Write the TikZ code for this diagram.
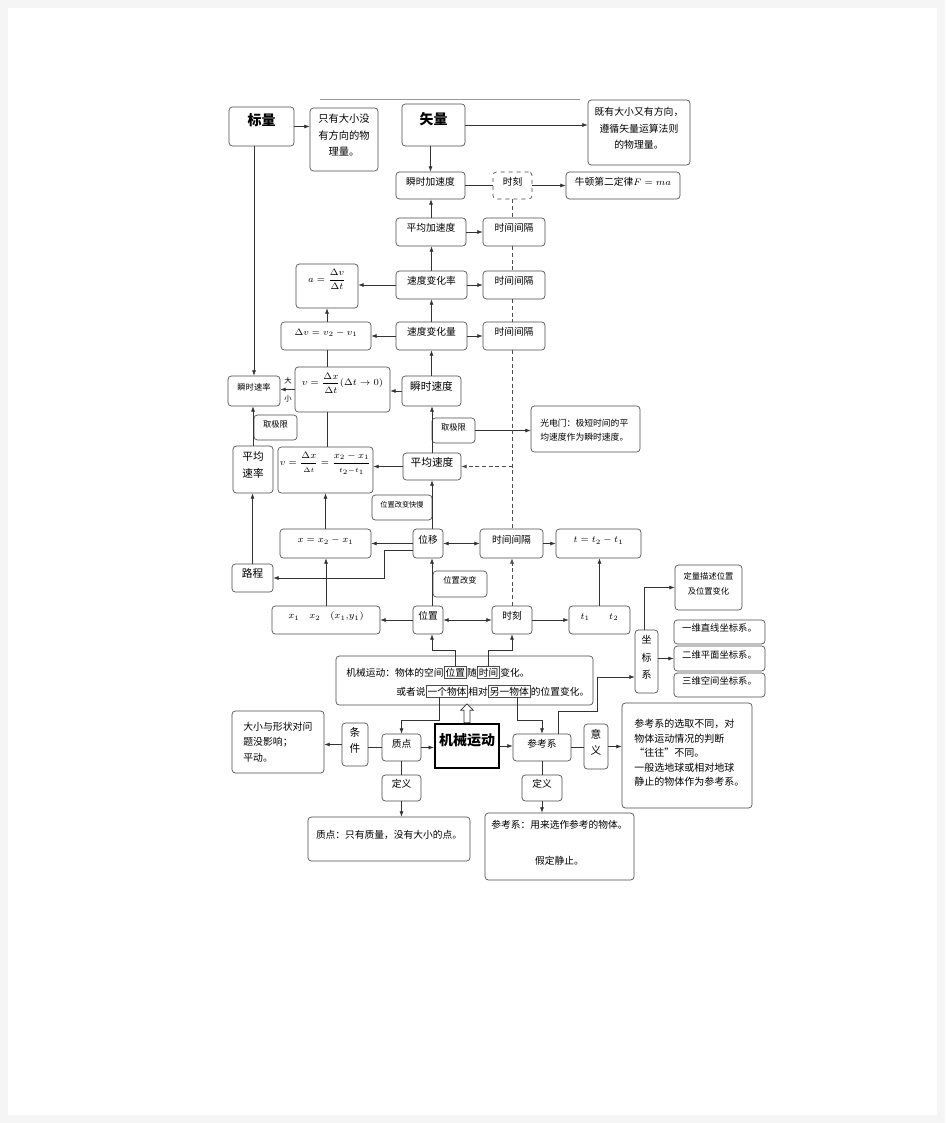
\documentclass[tikz,border=0pt]{standalone}
\usepackage{amsmath}
\usepackage{fontspec}
\setmainfont{Liberation Serif}
\newfontfamily\zh{Noto Sans CJK SC}
\usetikzlibrary{fit,calc,arrows.meta,shapes.arrows}
\newcommand\fsz[2]{\fontsize{#1}{#2}\selectfont}
\begin{document}
\begin{tikzpicture}[x=0.75pt,y=-0.75pt,line width=0.5pt,
  font=\zh\fsz{7.3}{9},
  box/.style={draw=black!70,rounded corners=2.5pt,fill=white,inner sep=0pt,align=center},
  txt/.style={inner sep=0pt,font=\zh\fsz{7.3}{9}},
  ltxt/.style={inner sep=0pt,align=left,anchor=west},
  hl/.style={draw=black!70,inner sep=1pt,font=\zh\fsz{7.3}{9}},
  ln/.style={draw=black!80},
  arr/.style={draw=black!80,-{Latex[length=4pt,width=3pt]}},
  darr/.style={draw=black!80,{Latex[length=4pt,width=3pt]}-{Latex[length=4pt,width=3pt]}},
  dline/.style={draw=black!70,dash pattern=on 3pt off 2pt}]
\newcommand\bx[5][]{\node[box,fit={(#3)(#4)},#1] (#2) {#5};}
\useasboundingbox (0,0) rectangle (945,1123);
\fill[gray!8] (0,0) rectangle (945,1123);
\fill[white] (8,8) rectangle (937,1115);
\draw[black!40] (320,99) -- (580,99);
% top
\bx[font=\zh\fsz{10.5}{12}\bfseries]{bl}{229,107}{294,146}{标量}
\bx[font=\zh\fsz{7.7}{12.5}]{bld}{310,108}{378,171}{只有大小没\\有方向的物\\理量。}
\bx[font=\zh\fsz{10.5}{12}\bfseries]{sl}{402,104}{465,146}{矢量}
\bx[font=\zh\fsz{7.4}{12.5}]{sld}{588,100}{690,165}{既有大小又有方向，\\遵循矢量运算法则\\的物理量。}
\bx{shja}{396,172}{465,199}{瞬时加速度}
\bx[dashed]{skA}{493,172}{532,199}{时刻}
\bx{nt}{566,172}{680,199}{牛顿第二定律$F=ma$}
\bx{pja}{396,218}{466,246}{平均加速度}
\bx{jgA}{483,218}{545,246}{时间间隔}
\bx{bhl}{396,271}{467,299}{速度变化率}
\bx{af}{296,264}{358,308}{$a=\dfrac{\Delta v}{\Delta t}$}
\bx{jgB}{483,271}{545,299}{时间间隔}
\bx{bhq}{396,322}{467,350}{速度变化量}
\bx{dv}{281,322}{371,350}{$\Delta v=v_2-v_1$}
\bx{jgC}{483,322}{545,350}{时间间隔}
\bx{vl}{295,367}{390,412}{$v=\dfrac{\Delta x}{\Delta t}(\Delta t\to0)$}
\bx[font=\zh\fsz{8}{10}]{shsd}{402,376}{461,406}{瞬时速度}
\bx[font=\zh\fsz{6.2}{8}]{shsl}{228,376}{280,406}{瞬时速率}
\bx[font=\zh\fsz{6.2}{8}]{qA}{254,415}{297,440}{取极限}
\bx[font=\zh\fsz{6.2}{8}]{qB}{432,418}{475,443}{取极限}
\bx{gdm}{531,406}{640,452}{}
\node[ltxt,font=\zh\fsz{6.6}{10}] (gdmt) at (540,430) {光电门：极短时间的平\\均速度作为瞬时速度。};
\bx[font=\zh\fsz{8}{13}]{pjsl}{233,446}{273,493}{平均\\速率}
\bx{va}{278,447}{373,493}{$v=\dfrac{\Delta x}{\scriptstyle\Delta t}=\dfrac{x_2-x_1}{\scriptstyle t_2-t_1}$}
\bx[font=\zh\fsz{8}{10}]{pjsd}{403,453}{461,480}{平均速度}
\bx[font=\zh\fsz{5.4}{7}]{gbkm}{372,495}{432,520}{位置改变快慢}
\bx{wy}{413,529}{443,558}{位移}
\bx{xf}{280,529}{371,558}{$x=x_2-x_1$}
\bx[font=\zh\fsz{8}{10}]{lc}{232,564}{273,592}{路程}
\bx{jgM}{480,529}{543,558}{时间间隔}
\bx{tf}{556,529}{641,558}{$t=t_2-t_1$}
\bx[font=\zh\fsz{6.2}{8}]{wzgb}{433,571}{487,597}{位置改变}
\bx{wz}{413,606}{443,634}{位置}
\bx{xs}{272,606}{380,634}{$x_1\quad x_2\quad(x_1{,}y_1)$}
\bx{skB}{492,606}{532,634}{时刻}
\bx{tt}{569,606}{630,634}{$t_1\qquad t_2$}
\bx[font=\zh\fsz{7.5}{13}]{zbx}{635,630}{658,693}{坐\\标\\系}
\bx[font=\zh\fsz{6.2}{11}]{dl}{675,565}{742,610}{定量描述位置\\及位置变化}
\bx[font=\zh\fsz{7}{9}]{yw}{674,620}{765,644}{一维直线坐标系。}
\bx[font=\zh\fsz{7}{9}]{ew}{674,646}{765,671}{二维平面坐标系。}
\bx[font=\zh\fsz{7}{9}]{sw}{674,673}{765,697}{三维空间坐标系。}
% description
\bx{desc}{336,656}{593,705}{}
\node[txt,anchor=base west] (d1) at (346,676) {机械运动：物体的空间};
\node[hl,anchor=base west] (h1) at (d1.base east) {位置};
\node[txt,anchor=base west] (d2) at (h1.base east) {随};
\node[hl,anchor=base west] (h2) at (d2.base east) {时间};
\node[txt,anchor=base west] (d3) at (h2.base east) {变化。};
\node[txt,anchor=base west] (e1) at (396,695) {或者说};
\node[hl,anchor=base west] (h3) at (e1.base east) {一个物体};
\node[txt,anchor=base west] (e2) at (h3.base east) {相对};
\node[hl,anchor=base west] (h4) at (e2.base east) {另一物体};
\node[txt,anchor=base west] (e3) at (h4.base east) {的位置变化。};
% bottom
\bx{dx}{232,711}{324,773}{}
\node[ltxt,font=\zh\fsz{7.4}{11.6}] (dxt) at (243,742) {大小与形状对问\\题没影响；\\平动。};
\bx[font=\zh\fsz{8}{12}]{tj}{342,723}{368,766}{条\\件}
\bx{zd}{382,734}{421,761}{质点}
\bx[line width=1.6pt,rounded corners=0pt,draw=black,font=\zh\fsz{10.5}{12}\bfseries]{jx}{435,724}{499,768}{机械运动}
\bx{ck}{513,734}{571,761}{参考系}
\bx[font=\zh\fsz{8}{12}]{yy}{584,724}{608,769}{意\\义}
\bx{ckd}{622,703}{752,808}{}
\node[ltxt,font=\zh\fsz{7.5}{10.9}] (ckdt) at (634,753) {参考系的选取不同，对\\物体运动情况的判断\\“往往”不同。\\一般选地球或相对地球\\静止的物体作为参考系。};
\bx{dyA}{382,775}{421,801}{定义}
\bx{dyB}{522,775}{562,801}{定义}
\bx{zdd}{308,817}{470,861}{质点：只有质量，没有大小的点。\\[4pt]}
\bx{ckdd}{485,813}{634,880}{参考系：用来选作参考的物体。\\[18pt]假定静止。}
\node[txt,font=\zh\fsz{5.5}{7}] (da) at (288,381) {大};
\node[txt,font=\zh\fsz{5.5}{7}] (xo) at (288,399) {小};
\node[single arrow,draw=black!80,fill=white,shape border rotate=90,minimum height=14pt,
  single arrow head extend=2.5pt,inner sep=2pt,anchor=tail] (ha) at (jx.north) {};
% coordinates
\coordinate (yA) at (0,650);
\coordinate (yB) at (0,720);
\coordinate (yC) at (0,677);
\coordinate (bend) at (597,711);
% connectors top
\draw[arr] (bl.east) -- (bl.east -| bld.west);
\draw[arr] (sl.east) -- (sl.east -| sld.west);
\draw[arr] (shja.north |- sl.south) -- (shja.north);
\draw[ln] (shja.east) -- (skA.west);
\draw[arr] (skA.east) -- (nt.west);
\draw[arr] (pja.north) -- (pja.north |- shja.south);
\draw[arr] (pja.east) -- (jgA.west);
\draw[arr] (bhl.north) -- (bhl.north |- pja.south);
\draw[arr] (bhl.east) -- (jgB.west);
\draw[arr] (bhl.west) -- (bhl.west -| af.east);
\draw[arr] (bhq.north) -- (bhq.north |- bhl.south);
\draw[arr] (bhq.east) -- (jgC.west);
\draw[arr] (bhq.west) -- (bhq.west -| dv.east);
\draw[arr] (af.south |- dv.north) -- (af.south);
\draw[ln] (af.south |- dv.south) -- (af.south |- vl.north);
\draw[ln] (af.south |- vl.south) -- (af.south |- va.north);
\draw[arr] (shsd.north) -- (shsd.north |- bhq.south);
\draw[arr] (shsd.west) -- (shsd.west -| vl.east);
\draw[arr] (vl.west) -- (vl.west -| shsl.east);
\draw[arr] (shsl.north |- bl.south) -- (shsl.north);
\draw[arr] (pjsl.north) -- (pjsl.north |- shsl.south);
\draw[arr] (pjsd.north) -- (pjsd.north |- shsd.south);
\draw[arr] (qB.east) -- (qB.east -| gdm.west);
\draw[arr] (pjsd.west) -- (pjsd.west -| va.east);
% dashed
\draw[dline] (skA.south) -- (skA.south |- jgA.north);
\draw[dline] (skA.south |- jgA.south) -- (skA.south |- jgB.north);
\draw[dline] (skA.south |- jgB.south) -- (skA.south |- jgC.north);
\draw[dline] (skA.south |- jgC.south) -- (skA.south |- jgM.north);
\draw[dline,-{Latex[length=4pt,width=3pt]}] (skA.south |- pjsd.east) -- (pjsd.east);
\draw[dline,-{Latex[length=4pt,width=3pt]}] (skB.north) -- (skB.north |- jgM.south);
% middle
\draw[arr] (pjsd.south |- wy.north) -- (pjsd.south);
\draw[arr] (wy.west) -- (wy.west -| xf.east);
\draw[arr] (xf.north) -- (xf.north |- va.south);
\draw[arr] ($(wy.west)+(0,7)$) -- ($(wy.west)+(-28,7)$) |- (lc.east);
\draw[arr] (lc.north) -- (lc.north |- pjsl.south);
\draw[darr] (wy.east) -- (jgM.west);
\draw[arr] (jgM.east) -- (tf.west);
\draw[arr] (pjsd.south |- wz.north) -- (pjsd.south |- wy.south);
\draw[arr] (wz.west) -- (xs.east);
\draw[arr] (xs.north) -- (xs.north |- xf.south);
\draw[darr] (wz.east) -- (skB.west);
\draw[arr] (skB.east) -- (tt.west);
\draw[arr] (tt.north) -- (tt.north |- tf.south);
\draw[arr] ($(zbx.north)+(-2,0)$) |- (dl.west);
\draw[arr] (zbx.east |- ew.west) -- (ew.west);
\draw[arr] ($(ck.north)+(16,0)$) |- (bend) |- (zbx.west |- yC);
% description links
\draw[arr] (h1.north) |- (pjsd.south |- yA) -- (pjsd.south |- wz.south);
\draw[arr] (h2.north) |- (skB.south |- yA) -- (skB.south);
\draw[arr] ($(h3.south)+(-8,0)$) |- (zd.north |- yB) -- (zd.north);
\draw[arr] ($(h4.south)+(8,0)$) |- (ck.north |- yB) -- (ck.north);
% bottom
\draw[arr] (zd.east) -- (zd.east -| jx.west);
\draw[arr] (jx.east) -- (jx.east -| ck.west);
\draw[ln] (zd.west) -- (zd.west -| tj.east);
\draw[arr] (tj.west) -- (tj.west -| dx.east);
\draw[ln] (ck.east) -- (ck.east -| yy.west);
\draw[arr] (yy.east) -- (yy.east -| ckd.west);
\draw[ln] (zd.south) -- (zd.south |- dyA.north);
\draw[arr] (dyA.south) -- (dyA.south |- zdd.north);
\draw[ln] (ck.south) -- (ck.south |- dyB.north);
\draw[arr] (dyB.south) -- (dyB.south |- ckdd.north);
\end{tikzpicture}
\end{document}
